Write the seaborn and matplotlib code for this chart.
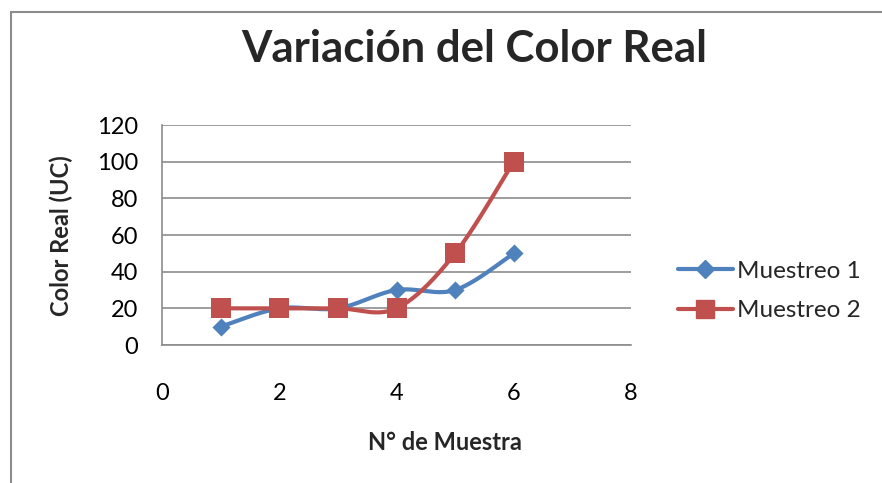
import numpy as np
import pandas as pd
import matplotlib
matplotlib.use("Agg")
import matplotlib.pyplot as plt
from matplotlib.lines import Line2D
from matplotlib.patches import Rectangle
import seaborn as sns

# Sample data
muestras = [1, 2, 3, 4, 5, 6]
muestreo_1 = [10, 20, 20, 30, 30, 50]
muestreo_2 = [20, 20, 20, 20, 50, 100]
series_names = ["Muestreo 1", "Muestreo 2"]
y_ticks = [0, 20, 40, 60, 80, 100, 120]
x_ticks = [0, 2, 4, 6, 8]

BLUE = "#4F81BD"
RED = "#C0504D"
GRID = "#8C8C8C"
FONT = "Lato"


def smooth_curve(xs, ys, steps=40):
    """Catmull-Rom spline through the points (like a spreadsheet 'smoothed line')."""
    p = np.column_stack([xs, ys]).astype(float)
    p = np.vstack([p[0], p, p[-1]])
    out = []
    for i in range(1, len(p) - 2):
        p0, p1, p2, p3 = p[i - 1], p[i], p[i + 1], p[i + 2]
        c1 = p1 + (p2 - p0) / 6.0
        c2 = p2 - (p3 - p1) / 6.0
        t = np.linspace(0, 1, steps, endpoint=(i == len(p) - 3))[:, None]
        seg = ((1 - t) ** 3) * p1 + 3 * ((1 - t) ** 2) * t * c1 \
            + 3 * (1 - t) * t ** 2 * c2 + t ** 3 * p2
        out.append(seg)
    return np.vstack(out)


sns.set_style("white")
plt.rcParams["font.family"] = [FONT, "DejaVu Sans"]

W, H = 882, 483
fig = plt.figure(figsize=(W / 100, H / 100), dpi=100)
ax = fig.add_axes([162 / W, 1 - 345 / H, (631 - 162) / W, (345 - 125) / H])

points = pd.DataFrame({
    "x": muestras * 2,
    "y": muestreo_1 + muestreo_2,
    "serie": [series_names[0]] * len(muestras) + [series_names[1]] * len(muestras),
})

curves = []
for name, vals in zip(series_names, [muestreo_1, muestreo_2]):
    c = smooth_curve(muestras, vals)
    curves.append(pd.DataFrame({"x": c[:, 0], "y": c[:, 1], "serie": name}))
curves = pd.concat(curves, ignore_index=True)

palette = {series_names[0]: BLUE, series_names[1]: RED}

sns.lineplot(data=curves, x="x", y="y", hue="serie", palette=palette,
             sort=False, estimator=None, linewidth=3, legend=False, ax=ax,
             solid_capstyle="round")
sns.scatterplot(data=points[points.serie == series_names[0]], x="x", y="y",
                color=BLUE, marker="D", s=85, linewidth=0, legend=False, ax=ax, zorder=3)
sns.scatterplot(data=points[points.serie == series_names[1]], x="x", y="y",
                color=RED, marker="s", s=190, linewidth=0, legend=False, ax=ax, zorder=3)

ax.set_xlim(0, 8)
ax.set_ylim(0, 120)
ax.set_xticks(x_ticks)
ax.set_yticks(y_ticks)
ax.tick_params(axis="both", length=0, labelsize=17, colors="black")
ax.tick_params(axis="x", pad=27)
ax.tick_params(axis="y", pad=17)
ax.yaxis.grid(True, color=GRID, linewidth=1.2)
ax.xaxis.grid(False)
for side in ["top", "right"]:
    ax.spines[side].set_visible(False)
for side in ["left", "bottom"]:
    ax.spines[side].set_color(GRID)
    ax.spines[side].set_linewidth(1.2)
ax.set_axisbelow(True)
ax.set_xlabel("")
ax.set_ylabel("")

# Axis titles
fig.text(445 / W, 1 - 443 / H, "N° de Muestra", ha="center", va="center",
         fontsize=17, fontweight="bold")
fig.text(61 / W, 1 - 236 / H, "Color Real (UC)", ha="center", va="center",
         rotation=90, fontsize=17, fontweight="bold")

fig.text(474 / W, 1 - 49 / H, "Variación del Color Real", ha="center",
         va="center", fontsize=31.5, fontweight="bold")

handles = [
    Line2D([], [], color=BLUE, linewidth=3, marker="D", markersize=9),
    Line2D([], [], color=RED, linewidth=3, marker="s", markersize=13),
]
fig.legend(handles, series_names, loc="center left",
           bbox_to_anchor=(678 / W, 1 - 291 / H), frameon=False,
           fontsize=17.5, handlelength=2.25, handletextpad=0.17,
           labelspacing=0.75, borderpad=0, borderaxespad=0)

# Outer chart frame
fig.patches.append(Rectangle((11 / W, -0.05), 1.2, 1 - 12 / H + 0.05,
                             transform=fig.transFigure, fill=False,
                             edgecolor=GRID, linewidth=1.5))

fig.savefig("out.png", dpi=100)
